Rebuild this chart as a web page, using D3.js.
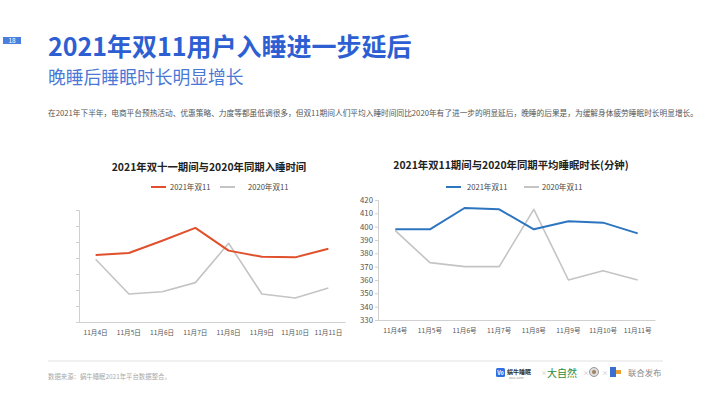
<!DOCTYPE html>
<html>
<head>
<meta charset="utf-8">
<script src="https://cdn.jsdelivr.net/npm/d3@7"></script>
<style>
  body { margin: 0; background: #fff; }
  svg { display: block; font-family: "Noto Sans CJK SC", "Noto Sans", sans-serif; }
</style>
</head>
<body>
<div id="page"></div>
<script>
// 数据
const daysLeft = ["11月4日", "11月5日", "11月6日", "11月7日", "11月8日", "11月9日", "11月10日", "11月11日"];
const daysRight = ["11月4号", "11月5号", "11月6号", "11月7号", "11月8号", "11月9号", "11月10号", "11月11号"];
// 入睡时间（原图无刻度标签，按刻度格数估读）
const bedtime2021 = [4.19, 4.31, 5.08, 5.88, 4.46, 4.08, 4.04, 4.58];
const bedtime2020 = [3.92, 1.75, 1.89, 2.46, 4.92, 1.75, 1.5, 2.12];
const bedtimeTicks = [0, 1, 2, 3, 4, 5, 6, 7];
// 平均睡眠时长（分钟）
const sleep2021 = [398, 398, 414, 413, 398, 404, 403, 395];
const sleep2020 = [397, 373, 370, 370, 413, 360, 367, 360];
const sleepTicks = [330, 340, 350, 360, 370, 380, 390, 400, 410, 420];
const seriesNames = ["2021年双11", "2020年双11"];

const W = 710, H = 399;
const svg = d3.select("#page").append("svg").attr("width", W).attr("height", H);

// 页码
svg.append("rect").attr("x", 3).attr("y", 37).attr("width", 18).attr("height", 7).attr("fill", "#4a7fe0");
svg.append("text").attr("x", 12).attr("y", 43).attr("text-anchor", "middle")
  .attr("font-size", 6.5).attr("fill", "#fff").text("18");

// 标题
svg.append("text").attr("x", 48).attr("y", 56).attr("font-size", 25).attr("font-weight", 700)
  .attr("fill", "#2d5fd3").text("2021年双11用户入睡进一步延后");
svg.append("text").attr("x", 48).attr("y", 84).attr("font-size", 17.8)
  .attr("fill", "#4a78d6").text("晚睡后睡眠时长明显增长");
svg.append("text").attr("x", 48).attr("y", 116).attr("font-size", 7.7).attr("fill", "#555")
  .text("在2021年下半年，电商平台预热活动、优惠策略、力度等都虽低调很多，但双11期间人们平均入睡时间同比2020年有了进一步的明显延后，晚睡的后果是，为缓解身体疲劳睡眠时长明显增长。");

// 绘制单个折线图
function drawChart(opt) {
  const g = svg.append("g");
  const x = d3.scaleBand().domain(opt.cats).range(opt.xRange);
  const y = d3.scaleLinear().domain(opt.yDomain).range(opt.yRange);
  const cx = d => x(d) + x.bandwidth() / 2;

  // 标题
  g.append("text").attr("x", opt.titleX).attr("y", opt.titleY).attr("text-anchor", "middle")
    .attr("font-size", 10.4).attr("font-weight", 700).attr("fill", "#222").text(opt.title);

  // 图例
  const lg = g.append("g").attr("font-size", 7.6).attr("fill", "#444");
  opt.legend.forEach((l, i) => {
    lg.append("line").attr("x1", l.x).attr("x2", l.x + 15).attr("y1", opt.legendY).attr("y2", opt.legendY)
      .attr("stroke", opt.colors[i]).attr("stroke-width", 2);
    lg.append("text").attr("x", l.tx).attr("y", opt.legendY + 2.7).text(seriesNames[i]);
  });

  // Y轴
  const yAxis = g.append("g").attr("transform", `translate(${opt.xRange[0]},0)`)
    .call(d3.axisLeft(y).tickValues(opt.yTicks).tickSize(3).tickFormat(opt.showYLabels ? d3.format("d") : ""));
  yAxis.select(".domain").attr("stroke", "#d0d0d0");
  yAxis.selectAll(".tick line").attr("stroke", "#d0d0d0");
  yAxis.selectAll(".tick text").attr("font-size", 7.8).attr("fill", "#555")
    .attr("font-family", "'Noto Sans CJK SC', sans-serif").attr("x", -5);

  // X轴
  const xAxis = g.append("g").attr("transform", `translate(0,${opt.yRange[0]})`)
    .call(d3.axisBottom(x).tickSize(0).tickPadding(opt.xPad));
  xAxis.select(".domain").attr("stroke", "#d0d0d0");
  xAxis.selectAll(".tick text").attr("font-size", 6.6).attr("fill", "#555")
    .attr("font-family", "'Noto Sans CJK SC', sans-serif");

  // 折线（2020在下层，2021在上层）
  const line = d3.line().x((d, i) => cx(opt.cats[i])).y(d => y(d));
  [1, 0].forEach(i => {
    g.append("path").datum(opt.series[i]).attr("d", line).attr("fill", "none")
      .attr("stroke", opt.colors[i]).attr("stroke-width", i === 0 ? 2 : 1.6)
      .attr("stroke-linejoin", "round");
  });
}

drawChart({
  cats: daysLeft,
  xRange: [79, 345],
  yDomain: [0, 7],
  yRange: [322, 210],
  yTicks: bedtimeTicks,
  showYLabels: false,
  xPad: 8,
  series: [bedtime2021, bedtime2020],
  colors: ["#e0502c", "#c4c4c4"],
  title: "2021年双十一期间与2020年同期入睡时间",
  titleX: 209, titleY: 171,
  legendY: 187,
  legend: [{ x: 151, tx: 170 }, { x: 220, tx: 248 }]
});

drawChart({
  cats: daysRight,
  xRange: [378, 655],
  yDomain: [330, 420],
  yRange: [320, 200],
  yTicks: sleepTicks,
  showYLabels: true,
  xPad: 8,
  series: [sleep2021, sleep2020],
  colors: ["#2e75c0", "#c4c4c4"],
  title: "2021年双11期间与2020年同期平均睡眠时长(分钟)",
  titleX: 511, titleY: 169,
  legendY: 187,
  legend: [{ x: 446, tx: 467 }, { x: 524, tx: 542 }]
});

// 页脚
svg.append("line").attr("x1", 48).attr("x2", 663).attr("y1", 361).attr("y2", 361)
  .attr("stroke", "#e2e2e2").attr("stroke-width", 1);
svg.append("text").attr("x", 48).attr("y", 379).attr("font-size", 6.4).attr("fill", "#aaa")
  .text("数据来源：蜗牛睡眠2021年平台数据整合。");

const logos = svg.append("g");
logos.append("rect").attr("x", 496).attr("y", 368).attr("width", 9).attr("height", 9).attr("rx", 1.5).attr("fill", "#2f6fe0");
logos.append("text").attr("x", 500.5).attr("y", 375).attr("text-anchor", "middle").attr("font-size", 5.5)
  .attr("font-weight", 700).attr("fill", "#fff").text("V0");
logos.append("text").attr("x", 507).attr("y", 374).attr("font-size", 6).attr("font-weight", 700).attr("fill", "#333").text("蜗牛睡眠");
logos.append("text").attr("x", 509).attr("y", 379).attr("font-size", 2.5).attr("fill", "#888").text("SNAIL SLEEP");
logos.append("text").attr("x", 541).attr("y", 375).attr("font-size", 6).attr("fill", "#bbb").text("×");
logos.append("text").attr("x", 547).attr("y", 376.5).attr("font-size", 10).attr("fill", "#2e8b3a").text("大自然");
logos.append("text").attr("x", 583).attr("y", 375).attr("font-size", 6).attr("fill", "#bbb").text("×");
logos.append("circle").attr("cx", 594).attr("cy", 372).attr("r", 4.5).attr("fill", "#ddd").attr("stroke", "#999").attr("stroke-width", 1);
logos.append("circle").attr("cx", 594).attr("cy", 372).attr("r", 2).attr("fill", "#a08060");
logos.append("text").attr("x", 602).attr("y", 375).attr("font-size", 6).attr("fill", "#bbb").text("×");
logos.append("rect").attr("x", 610).attr("y", 367).attr("width", 6).attr("height", 10).attr("fill", "#3a6fd0");
logos.append("rect").attr("x", 616).attr("y", 370).attr("width", 5).attr("height", 4).attr("fill", "#e8a030");
logos.append("text").attr("x", 628).attr("y", 375.5).attr("font-size", 8.4).attr("fill", "#888").text("联合发布");
</script>
</body>
</html>
